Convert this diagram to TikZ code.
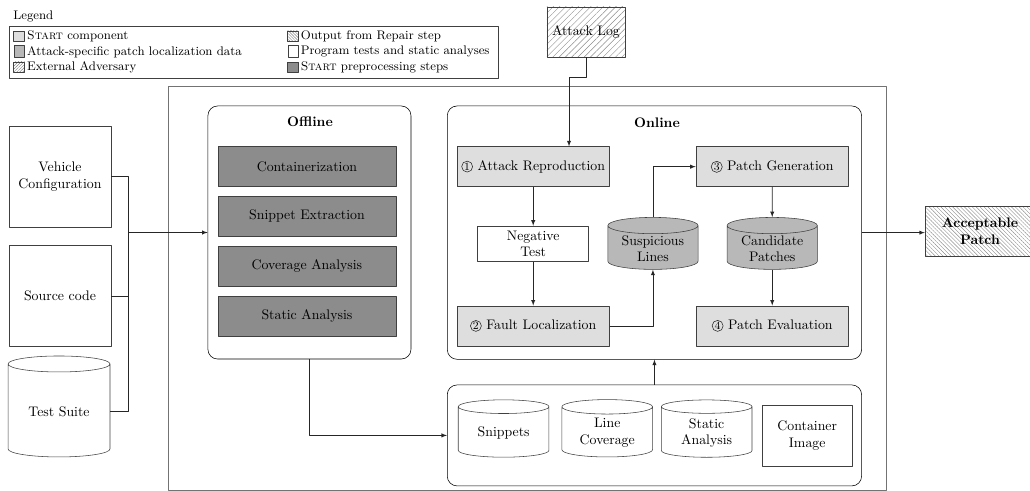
\documentclass[tikz,border=0pt]{standalone}
\usetikzlibrary{shapes.geometric,patterns.meta}
\newcommand{\stepnum}[1]{\tikz[baseline=(c.base)]\node[draw=black!85,circle,inner sep=0.4pt,minimum width=0pt,minimum height=0pt,font=\footnotesize] (c) {#1};}
\begin{document}
\begin{tikzpicture}[>=latex,line join=bevel,
  startbox/.style={draw=black!75,rectangle,fill=black!13,minimum width=109.7bp,minimum height=28.8bp,inner sep=1pt},
  prepbox/.style={draw=black!75,rectangle,fill=black!45,minimum width=128.2bp,minimum height=28.8bp},
  inputbox/.style={draw=black!75,rectangle,minimum width=73.4bp,minimum height=72.7bp,align=center},
  store/.style={draw=black!75,cylinder,shape border rotate=90,aspect=0.25,minimum width=65.3bp,minimum height=41.3bp,align=center,inner sep=1pt},
  panel/.style={draw=black,rectangle,rounded corners=7bp},
  advbox/.style={draw=black!75,rectangle,pattern={Lines[angle=45,distance=3.2pt,line width=0.3pt]},pattern color=black!45},
  outbox/.style={draw=black!75,rectangle,pattern={Lines[angle=-45,distance=2pt,line width=0.3pt]},pattern color=black!45},
  legicon/.style={draw=black!75,rectangle,minimum width=7.9bp,minimum height=7.2bp,inner sep=0pt},
  legcyl/.style={draw=black!75,cylinder,shape border rotate=90,aspect=1.4,minimum width=7.2bp,minimum height=8.6bp,inner sep=0pt},
  legtext/.style={anchor=west,inner sep=0pt,font=\small},
  flow/.style={->,draw=black!85},
]
\useasboundingbox (0bp,0bp) rectangle (741.6bp,353.5bp);
%% legend
\node (legtitle) at (9.4bp,342bp) [legtext] {Legend};
\node (legframe) at (182.7bp,315.9bp) [draw=black!75,rectangle,minimum width=351.8bp,minimum height=37bp] {};
\node (leg1) at (13.7bp,327.6bp) [legicon,fill=black!13] {};
\node (leg2) at (13.7bp,316.2bp) [legcyl,fill=black!28] {};
\node (leg3) at (13.7bp,305.3bp) [legicon,pattern={Lines[angle=45,distance=1.5pt,line width=0.3pt]},pattern color=black!50] {};
\node (leg4) at (211bp,327.6bp) [legicon,pattern={Lines[angle=-45,distance=1.5pt,line width=0.3pt]},pattern color=black!50] {};
\node (leg5) at (211bp,316.2bp) [legcyl] {};
\node (leg6) at (211bp,305.3bp) [legicon,fill=black!45] {};
\node (legt1) at (19.4bp,327.6bp) [legtext] {\textsc{Start} component};
\node (legt2) at (19.4bp,316.2bp) [legtext] {Attack-specific patch localization data};
\node (legt3) at (19.4bp,305.3bp) [legtext] {External Adversary};
\node (legt4) at (216.4bp,327.6bp) [legtext] {Output from Repair step};
\node (legt5) at (216.4bp,316.2bp) [legtext] {Program tests and static analyses};
\node (legt6) at (216.4bp,305.3bp) [legtext] {\textsc{Start} preprocessing steps};
%% frames
\node (frame) at (379.6bp,146.2bp) [draw=black!55,rectangle,minimum width=516.6bp,minimum height=290.9bp] {};
\node (offline) at (222.8bp,186.1bp) [panel,minimum width=146.2bp,minimum height=182.2bp] {};
\node (online) at (471.2bp,186bp) [panel,minimum width=298.3bp,minimum height=182.4bp] {};
\node (storage) at (471.2bp,40bp) [panel,minimum width=298.3bp,minimum height=72.7bp] {};
\node (offline_t) at (223.2bp,265.7bp) {\textbf{Offline}};
\node (online_t) at (473bp,265.2bp) {\textbf{Online}};
%% inputs
\node (vehicle) at (43.2bp,226.4bp) [inputbox] {Vehicle\\Configuration};
\node (source) at (43.2bp,140.2bp) [inputbox] {Source code};
\node (suite) at (42.5bp,57.2bp) [store,minimum width=73.4bp,minimum height=72.7bp] {Test Suite};
\node (attack_log) at (421.9bp,330.5bp) [advbox,minimum width=56.2bp,minimum height=36bp] {Attack Log};
\node (accept) at (705.6bp,186.9bp) [outbox,minimum width=79.2bp,minimum height=36.5bp,align=center,font=\bfseries] {Acceptable\\Patch};
%% offline steps
\node (contain) at (221bp,233.5bp) [prepbox] {Containerization};
\node (snip_ext) at (221bp,197.8bp) [prepbox] {Snippet Extraction};
\node (cov_an) at (221bp,161.9bp) [prepbox] {Coverage Analysis};
\node (stat_an) at (221bp,126bp) [prepbox] {Static Analysis};
%% online steps
\node (repro) at (383.9bp,233.5bp) [startbox] {\stepnum{1} Attack Reproduction};
\node (neg_test) at (383.9bp,177.9bp) [draw=black!75,rectangle,minimum width=79.9bp,minimum height=25.7bp,align=center,inner sep=1pt] {Negative\\Test};
\node (fault_loc) at (383.9bp,118.9bp) [startbox] {\stepnum{2} Fault Localization};
\node (susp) at (470.1bp,174.5bp) [store,fill=black!28,minimum width=65bp,minimum height=34bp] {Suspicious\\Lines};
\node (patch_gen) at (556bp,233.5bp) [startbox] {\stepnum{3} Patch Generation};
\node (cand) at (556bp,174.5bp) [store,fill=black!28,minimum width=65bp,minimum height=34bp] {Candidate\\Patches};
\node (patch_eval) at (556bp,118.9bp) [startbox] {\stepnum{4} Patch Evaluation};
%% stored artefacts
\node (snippets) at (362.6bp,41.8bp) [store] {Snippets};
\node (line_cov) at (437.2bp,41.8bp) [store] {Line\\Coverage};
\node (stat_db) at (508.8bp,41.8bp) [store] {Static\\Analysis};
\node (cont_img) at (581.2bp,40bp) [draw=black!75,rectangle,minimum width=65bp,minimum height=43.9bp,align=center] {Container\\Image};
%% connectors
\coordinate (inputs_jn) at (92.7bp,186.1bp);
\coordinate (log_bend) at (409.7bp,297.6bp);
\draw [draw=black!85] (vehicle.east) -| (inputs_jn);
\draw [draw=black!85] (source.east) -| (inputs_jn);
\draw [draw=black!85] (suite.east) -| (inputs_jn);
\draw [flow] (inputs_jn) -- (offline.west);
\draw [flow] (offline.south) |- (storage.west);
\draw [flow] (storage.north) -- (online.south);
\draw [flow] (attack_log.south) |- (log_bend) -- (log_bend |- repro.north);
\draw [flow] (repro.south) -- (neg_test.north);
\draw [flow] (neg_test.south) -- (fault_loc.north);
\draw [flow] (fault_loc.east) -| (susp.south);
\draw [flow] (susp.north) |- (patch_gen.west);
\draw [flow] (patch_gen.south) -- (cand.north);
\draw [flow] (cand.south) -- (patch_eval.north);
\draw [flow] (online.east) -- (online.east -| accept.west);
%
\end{tikzpicture}
\end{document}
